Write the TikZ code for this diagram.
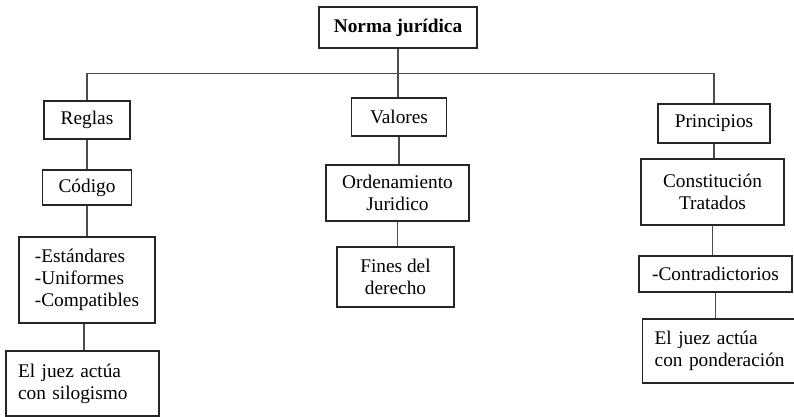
\documentclass[tikz,border=0pt]{standalone}
\usepackage{fontspec}
\setmainfont{Liberation Serif}
\usepackage{tikz}
\usetikzlibrary{calc}

\tikzset{
	box/.style={draw=black!85, line width=0.8pt, align=center, inner sep=2pt,
		font=\fontsize{14.5}{16.5}\selectfont},
	leftbox/.style={box, align=left, inner xsep=9pt},
	link/.style={draw=black!70, line width=0.8pt}
}

\begin{document}
\begin{tikzpicture}[x=0.75pt,y=-0.75pt]
		\useasboundingbox (0,0) rectangle (794,417);

		% top
		\node at (398,27.5) (norma) [box, minimum width=118.5pt, minimum height=30.75pt] {\textbf{Norma jurídica}};
		\coordinate (bus) at (398,73.5);

		% left column
		\node at (87,120)    (reglas) [box, minimum width=64.5pt, minimum height=28.5pt] {Reglas};
		\node at (87,187.5)  (codigo) [box, minimum width=66.75pt, minimum height=26.25pt] {Código};
		\node at (87,280)    (estandares) [box, align=left, minimum width=102pt, minimum height=64.5pt] {-Estándares\\-Uniformes\\-Compatibles};
		\node at (82.5,383.5) (silogismo) [leftbox, text width=96.75pt, minimum height=48.75pt] {El juez actúa\\con silogismo};

		% middle column
		\node at (399,117)   (valores) [box, minimum width=71.25pt, minimum height=28.5pt] {Valores};
		\node at (397.5,193) (ordenamiento) [box, minimum width=107.25pt, minimum height=42pt] {Ordenamiento\\Juridico};
		\node at (395.5,277) (fines) [box, minimum width=87.75pt, minimum height=45pt] {Fines del\\derecho};

		% right column
		\node at (714,123.5)  (principios) [box, minimum width=84pt, minimum height=29.25pt] {Principios};
		\node at (712.5,192)  (constitucion) [box, minimum width=107.25pt, minimum height=49.5pt] {Constitución\\Tratados};
		\node at (715.5,274)  (contradictorios) [box, minimum width=114.75pt, minimum height=27pt] {-Contradictorios};
		\node at (720,351)    (ponderacion) [leftbox, text width=98pt, minimum height=48pt] {El juez actúa\\con ponderación};

		% connectors
		\draw [link] (norma.south) -- (norma.south |- valores.north);
		\draw [link] (reglas.north) |- (bus) -| (principios.north);
		\foreach \a/\b in {reglas/codigo, codigo/estandares, valores/ordenamiento, ordenamiento/fines,
			principios/constitucion, constitucion/contradictorios, contradictorios/ponderacion}{
			\draw [link] (\a.south) -- (\a.south |- \b.north);
		}
		\draw [link] (silogismo.north) ++(1.5,0) coordinate (s) -- (s |- estandares.south);
	\end{tikzpicture}
\end{document}
